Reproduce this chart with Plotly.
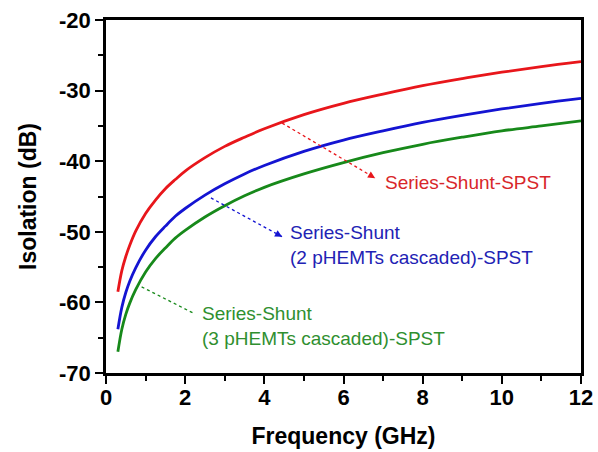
import plotly.graph_objects as go

freq = [0.3, 0.4, 0.5, 0.6, 0.75, 1, 1.25, 1.5, 1.75, 2, 2.5, 3, 3.5, 4, 5, 6, 7, 8, 9, 10, 11, 12]
iso_ss = [-58.5, -55.5, -53.5, -51.9, -49.9, -47.4, -45.5, -43.9, -42.6, -41.4, -39.5, -37.9,
          -36.6, -35.4, -33.4, -31.8, -30.5, -29.3, -28.3, -27.4, -26.6, -25.9]
iso_2p = [-63.8, -60.7, -58.6, -57.0, -55.1, -52.6, -50.7, -49.2, -47.8, -46.7, -44.8, -43.2,
          -41.8, -40.6, -38.6, -37.0, -35.7, -34.5, -33.5, -32.6, -31.8, -31.1]
iso_3p = [-67.0, -63.8, -61.7, -60.1, -58.2, -55.7, -53.8, -52.3, -50.9, -49.8, -47.9, -46.3,
          -44.9, -43.7, -41.8, -40.2, -38.8, -37.6, -36.6, -35.7, -35.0, -34.3]

names = ["Series-Shunt-SPST",
         "Series-Shunt<br>(2 pHEMTs cascaded)-SPST",
         "Series-Shunt<br>(3 pHEMTs cascaded)-SPST"]
line_colors = ["#e8161b", "#1414d2", "#17891a"]
text_colors = ["#d8262a", "#2222b4", "#2f8f2f"]

# arrow (tail -> head) in data coordinates and label anchor
arrows = [((4.45, -34.6), (6.8, -42.4)),
          ((2.65, -45.2), (4.45, -50.7)),
          ((0.9, -57.8), (2.2, -61.5))]
labels = [(7.0, -43.0), (4.6, -51.8), (2.37, -63.3)]

fig = go.Figure()
for y, c, n in zip([iso_ss, iso_2p, iso_3p], line_colors, names):
    fig.add_trace(go.Scatter(x=freq, y=y, mode="lines", line=dict(color=c, width=2.8),
                             line_shape="spline", name=n, showlegend=False))

for (tail, head), c, tc, lab, n in zip(arrows, line_colors, text_colors, labels, names):
    fig.add_shape(type="line", x0=tail[0], y0=tail[1], x1=head[0], y1=head[1],
                  line=dict(color=c, width=1.3, dash="dot"), xref="x", yref="y")
    fx = head[0] - (head[0] - tail[0]) * 0.06
    fy = head[1] - (head[1] - tail[1]) * 0.06
    fig.add_annotation(x=head[0], y=head[1], ax=fx, ay=fy, axref="x", ayref="y",
                       xref="x", yref="y", text="", showarrow=True, arrowhead=2,
                       arrowsize=1.1, arrowwidth=1.3, arrowcolor=c)
    fig.add_annotation(x=lab[0], y=lab[1], xref="x", yref="y", text=n, showarrow=False,
                       xanchor="left", yanchor="middle", align="left",
                       font=dict(family="Liberation Sans, Arial", size=19, color=tc))

axis_font = dict(family="Liberation Sans, Arial", size=22, color="black")
title_font = dict(family="Liberation Sans, Arial", size=23, color="black")
fig.update_xaxes(range=[0, 12], tickvals=[0, 2, 4, 6, 8, 10, 12],
                 ticktext=["<b>%d</b>" % v for v in [0, 2, 4, 6, 8, 10, 12]],
                 ticks="outside", ticklen=8, tickwidth=2.2, tickcolor="black",
                 minor=dict(dtick=1, ticks="outside", ticklen=5, tickwidth=2, tickcolor="black"),
                 showline=True, linecolor="black", linewidth=2.6, mirror=True,
                 showgrid=False, zeroline=False, tickfont=axis_font, automargin=False,
                 ticklabelstandoff=-5,
                 title=dict(text="<b>Frequency (GHz)</b>", font=title_font, standoff=19))
fig.update_yaxes(range=[-70, -20], tickvals=[-70, -60, -50, -40, -30, -20],
                 ticktext=["<b>%d</b>" % v for v in [-70, -60, -50, -40, -30, -20]],
                 ticks="outside", ticklen=8, tickwidth=2.2, tickcolor="black",
                 minor=dict(dtick=5, ticks="outside", ticklen=5, tickwidth=2, tickcolor="black"),
                 showline=True, linecolor="black", linewidth=2.6, mirror=True,
                 showgrid=False, zeroline=False, tickfont=axis_font, automargin=False,
                 title=dict(text="<b>Isolation (dB)</b>", font=title_font, standoff=16))

fig.update_layout(width=598, height=452, margin=dict(l=106, r=17, t=20, b=79),
                  plot_bgcolor="white", paper_bgcolor="white")
fig.write_html("out.html")
